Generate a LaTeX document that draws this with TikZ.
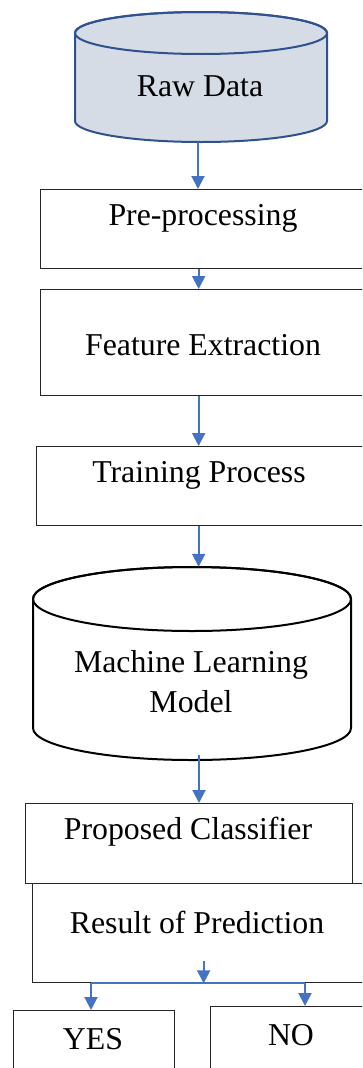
\documentclass[tikz,border=0pt]{standalone}
\usepackage{fontspec}
\setmainfont{Liberation Serif}
\usetikzlibrary{arrows.meta,calc}
\definecolor{arrblue}{HTML}{4472C4}
\definecolor{rawfill}{HTML}{D6DCE5}
\definecolor{rawline}{HTML}{2F528F}
\begin{document}
\begin{tikzpicture}[x=1pt,y=-1pt,
  boxnode/.style={draw=black!85,line width=1.3pt,minimum width=#1,anchor=north west,inner sep=0pt},
  holder/.style={inner sep=0pt},
  lbl/.style={font=\fontsize{31.8}{40}\selectfont,inner sep=0pt,align=center},
  arr/.style={draw=arrblue,line width=2pt,-{Triangle[length=13pt,width=13pt]}},
  bline/.style={draw=arrblue,line width=2pt}]
\useasboundingbox (0,0) rectangle (362,1068);
\clip (0,0) rectangle (362,1068);
% Raw Data cylinder
\filldraw[fill=rawfill,draw=rawline,line width=2pt]
  (75,33) -- (75,121) arc[start angle=180,end angle=360,x radius=126pt,y radius=21pt]
  -- (327,33) arc[start angle=0,end angle=180,x radius=126pt,y radius=21pt] -- cycle;
\draw[rawline,line width=2pt] (201,33) ellipse[x radius=126pt,y radius=21pt];
\node[holder,minimum width=252pt,minimum height=130pt] (raw) at (201,77) {};
\node[lbl] (rawT) at (200,86) {Raw Data};
% ML cylinder
\filldraw[fill=white,draw=black,line width=2pt]
  (33,599) -- (33,728) arc[start angle=180,end angle=360,x radius=159pt,y radius=32pt]
  -- (351,599) arc[start angle=0,end angle=180,x radius=159pt,y radius=32pt] -- cycle;
\draw[black,line width=2pt] (192,599) ellipse[x radius=159pt,y radius=32pt];
\node[holder,minimum width=318pt,minimum height=193pt] (ml) at (192,663.5) {};
\node[lbl] (mlT) at (191,682) {Machine Learning\\Model};
% boxes
\node[boxnode=332pt,minimum height=79pt] (pre) at (40,189) {};
\node[lbl] (preT) at (203,218) {Pre-processing};
\node[boxnode=332pt,minimum height=106pt] (feat) at (40,289) {};
\node[lbl] (featT) at (203,345) {Feature Extraction};
\node[boxnode=336pt,minimum height=79pt] (train) at (36,446) {};
\node[lbl] (trainT) at (199,475) {Training Process};
\node[boxnode=340pt,minimum height=99pt] (res) at (32,883) {};
\node[lbl] (resT) at (197,922) {Result of Prediction};
\node[boxnode=327pt,minimum height=80pt,fill=white] (prop) at (25,803) {};
\node[lbl] (propT) at (188,832) {Proposed Classifier};
\node[boxnode=161pt,minimum height=80pt] (yes) at (13,1010) {};
\node[lbl] (yesT) at (93,1039) {YES};
\node[boxnode=162pt,minimum height=80pt] (no) at (210,1006) {};
\node[lbl] (noT) at (291,1035) {NO};
% arrows
\draw[arr] ([xshift=-3pt]raw.south) -- ([xshift=-3pt]raw.south |- pre.north);
\draw[arr] ([xshift=-8pt]pre.south) -- ([xshift=-8pt]pre.south |- feat.north);
\draw[arr] ([xshift=-8pt]feat.south) -- ([xshift=-8pt]feat.south |- train.north);
\draw[arr] ([xshift=-6pt]train.south) -- ([xshift=-6pt]train.south |- ml.north);
\draw[arr] ([xshift=7pt,yshift=5pt]ml.south) -- ([xshift=7pt]ml.south |- prop.north);
\draw[arr] ([xshift=1pt,yshift=22pt]res.south) -- ([xshift=1pt]res.south);
\coordinate (bl) at (91,983);
\coordinate (br) at (305,983);
\draw[bline] (bl) -- (br);
\draw[arr] (bl) -- (bl |- yes.north);
\draw[arr] (br) -- (br |- no.north);
\end{tikzpicture}
\end{document}
